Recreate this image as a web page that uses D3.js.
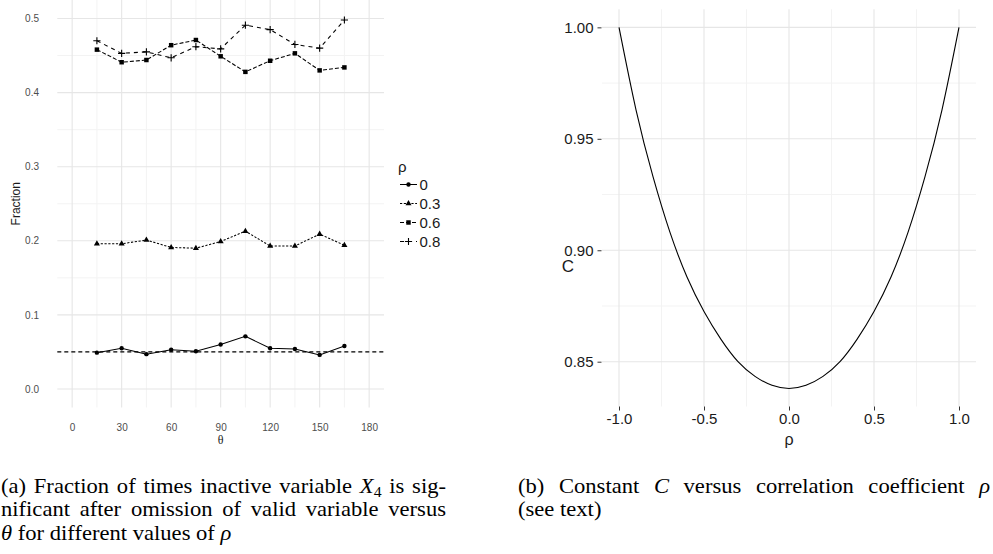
<!DOCTYPE html>
<html>
<head>
<meta charset="utf-8">
<script src="https://cdn.jsdelivr.net/npm/d3@7"></script>
<style>
  html, body { margin: 0; padding: 0; background: #fff; }
  svg { display: block; }
</style>
</head>
<body>
<svg id="chart" width="993" height="554"></svg>
<script>
// ---------- DATA ----------
const theta = [15, 30, 45, 60, 75, 90, 105, 120, 135, 150, 165];
const frac_rho0  = [0.049, 0.055, 0.047, 0.053, 0.051, 0.060, 0.071, 0.055, 0.054, 0.046, 0.058];
const frac_rho03 = [0.196, 0.196, 0.201, 0.191, 0.190, 0.199, 0.213, 0.193, 0.193, 0.209, 0.194];
const frac_rho06 = [0.458, 0.441, 0.444, 0.464, 0.471, 0.449, 0.428, 0.443, 0.453, 0.430, 0.434];
const frac_rho08 = [0.470, 0.453, 0.455, 0.447, 0.462, 0.459, 0.491, 0.485, 0.465, 0.460, 0.498];
const rhoLevels = ["0", "0.3", "0.6", "0.8"];
const refLevel = 0.05;
const thetaTicks = [0, 30, 60, 90, 120, 150, 180];
const fracTicks = [0.0, 0.1, 0.2, 0.3, 0.4, 0.5];

const rhoGrid = [-1.0, -0.9, -0.8, -0.7, -0.6, -0.5, -0.4, -0.3, -0.2, -0.1, 0.0,
                 0.1, 0.2, 0.3, 0.4, 0.5, 0.6, 0.7, 0.8, 0.9, 1.0];
const constC  = [1.000, 0.963, 0.933, 0.908, 0.888, 0.8725, 0.860, 0.850, 0.8434, 0.8394, 0.838,
                 0.8394, 0.8434, 0.850, 0.860, 0.8725, 0.888, 0.908, 0.933, 0.963, 1.000];
const rhoTicks = [-1.0, -0.5, 0.0, 0.5, 1.0];
const cTicks = [0.85, 0.90, 0.95, 1.00];

// ---------- SETUP ----------
const svg = d3.select("#chart");
const sans = "'Liberation Sans', Arial, Helvetica, sans-serif";
const serif = "'Liberation Serif', 'Times New Roman', serif";
const majorCol = "#e6e6e6", minorCol = "#f3f3f3";
const hyph = f => d => f(d).replace("\u2212", "-");

// ================= LEFT PANEL =================
const xL = d3.scaleLinear().domain([-9, 189]).range([57.3, 384]);
const yL = d3.scaleLinear().domain([-0.025, 0.525]).range([407.5, 0]);
const gL = svg.append("g");

const thetaMinor = thetaTicks.slice(0, -1).map(t => t + 15);
const fracMinor = fracTicks.slice(0, -1).map(t => t + 0.05);
gL.selectAll(".vminor").data(thetaMinor).join("line")
  .attr("x1", d => xL(d)).attr("x2", d => xL(d))
  .attr("y1", yL.range()[1]).attr("y2", yL.range()[0])
  .attr("stroke", minorCol).attr("stroke-width", 1);
gL.selectAll(".hminor").data(fracMinor).join("line")
  .attr("y1", d => yL(d)).attr("y2", d => yL(d))
  .attr("x1", xL.range()[0]).attr("x2", xL.range()[1])
  .attr("stroke", minorCol).attr("stroke-width", 1);
gL.selectAll(".vmajor").data(thetaTicks).join("line")
  .attr("x1", d => xL(d)).attr("x2", d => xL(d))
  .attr("y1", yL.range()[1]).attr("y2", yL.range()[0])
  .attr("stroke", majorCol).attr("stroke-width", 1.1);
gL.selectAll(".hmajor").data(fracTicks).join("line")
  .attr("y1", d => yL(d)).attr("y2", d => yL(d))
  .attr("x1", xL.range()[0]).attr("x2", xL.range()[1])
  .attr("stroke", majorCol).attr("stroke-width", 1.1);

const axL = d3.axisLeft(yL).tickValues(fracTicks).tickFormat(d3.format(".1f")).tickSize(0).tickPadding(0);
const axLg = gL.append("g").attr("transform", "translate(39,0)").call(axL);
axLg.select(".domain").remove();
axLg.selectAll("text").attr("font-family", sans).attr("font-size", 10).attr("fill", "#4d4d4d");
const axB = d3.axisBottom(xL).tickValues(thetaTicks).tickFormat(d3.format("d")).tickSize(0).tickPadding(0);
const axBg = gL.append("g").attr("transform", "translate(0,424)").call(axB);
axBg.select(".domain").remove();
axBg.selectAll("text").attr("font-family", sans).attr("font-size", 10).attr("fill", "#4d4d4d");

gL.append("text").attr("x", xL(90)).attr("y", 444).attr("text-anchor", "middle")
  .attr("font-family", serif).attr("font-size", 12).attr("fill", "#1a1a1a").text("θ");
gL.append("text").attr("transform", `translate(19.5,${(yL.range()[0] + yL.range()[1]) / 2}) rotate(-90)`)
  .attr("text-anchor", "middle").attr("font-family", sans).attr("font-size", 12)
  .attr("fill", "#1a1a1a").text("Fraction");

gL.append("line").attr("x1", xL.range()[0]).attr("x2", xL.range()[1])
  .attr("y1", yL(refLevel)).attr("y2", yL(refLevel))
  .attr("stroke", "#000").attr("stroke-width", 1.3).attr("stroke-dasharray", "4,3");

const seriesVals = [frac_rho0, frac_rho03, frac_rho06, frac_rho08];
const dashes = [null, "2.2,1.6", "4,2", "4,4"];
const shapes = ["circle", "triangle", "square", "plus"];

function drawMarker(g, shape, x, y) {
  if (shape === "circle") {
    g.append("circle").attr("cx", x).attr("cy", y).attr("r", 2.2).attr("fill", "#000");
  } else if (shape === "triangle") {
    g.append("path").attr("transform", `translate(${x},${y})`)
      .attr("d", d3.symbol(d3.symbolTriangle, 16)()).attr("fill", "#000");
  } else if (shape === "square") {
    g.append("path").attr("transform", `translate(${x},${y})`)
      .attr("d", d3.symbol(d3.symbolSquare, 20)()).attr("fill", "#000");
  } else {
    g.append("path").attr("transform", `translate(${x},${y})`)
      .attr("d", "M-3.6,0H3.6M0,-3.6V3.6").attr("stroke", "#000").attr("stroke-width", 1.1).attr("fill", "none");
  }
}

const lineL = d3.line().x(d => xL(d[0])).y(d => yL(d[1]));
seriesVals.forEach((vals, i) => {
  const pts = theta.map((t, j) => [t, vals[j]]);
  gL.append("path").datum(pts).attr("d", lineL)
    .attr("fill", "none").attr("stroke", "#000").attr("stroke-width", 1.05)
    .attr("stroke-dasharray", dashes[i]);
  pts.forEach(p => drawMarker(gL, shapes[i], xL(p[0]), yL(p[1])));
});

// legend
const leg = svg.append("g");
leg.append("text").attr("x", 398).attr("y", 172).attr("font-family", sans).attr("font-size", 15)
  .attr("fill", "#1a1a1a").text("ρ");
rhoLevels.forEach((lab, i) => {
  const cy = 184.5 + i * 19;
  leg.append("line").attr("x1", 400).attr("x2", 417).attr("y1", cy).attr("y2", cy)
    .attr("stroke", "#000").attr("stroke-width", 1.05).attr("stroke-dasharray", dashes[i]);
  drawMarker(leg, shapes[i], 408.5, cy);
  leg.append("text").attr("x", 419.5).attr("y", cy + 5.5).attr("font-family", sans)
    .attr("font-size", 15).attr("fill", "#1a1a1a").text(lab);
});

// ================= RIGHT PANEL =================
const cExt = d3.extent(constC);
const cPad = (cExt[1] - cExt[0]) * 0.05;
const xR = d3.scaleLinear().domain([-1.1, 1.1]).range([602, 976]);
const yR = d3.scaleLinear().domain([cExt[0] - cPad, cExt[1] + cPad]).range([406.5, 9.3]);
const gR = svg.append("g");

const rhoMinor = [-0.75, -0.25, 0.25, 0.75];
const cMinor = [0.825, 0.875, 0.925, 0.975];
gR.selectAll(".vminor").data(rhoMinor).join("line")
  .attr("x1", d => xR(d)).attr("x2", d => xR(d))
  .attr("y1", yR.range()[1]).attr("y2", yR.range()[0])
  .attr("stroke", minorCol).attr("stroke-width", 1);
gR.selectAll(".hminor").data(cMinor.filter(d => d > yR.domain()[0])).join("line")
  .attr("y1", d => yR(d)).attr("y2", d => yR(d))
  .attr("x1", xR.range()[0]).attr("x2", xR.range()[1])
  .attr("stroke", minorCol).attr("stroke-width", 1);
gR.selectAll(".vmajor").data(rhoTicks).join("line")
  .attr("x1", d => xR(d)).attr("x2", d => xR(d))
  .attr("y1", yR.range()[1]).attr("y2", yR.range()[0])
  .attr("stroke", majorCol).attr("stroke-width", 1.1);
gR.selectAll(".hmajor").data(cTicks).join("line")
  .attr("y1", d => yR(d)).attr("y2", d => yR(d))
  .attr("x1", xR.range()[0]).attr("x2", xR.range()[1])
  .attr("stroke", majorCol).attr("stroke-width", 1.1);

const axRL = d3.axisLeft(yR).tickValues(cTicks).tickFormat(d3.format(".2f")).tickSize(4).tickPadding(4);
const axRLg = gR.append("g").attr("transform", "translate(601.5,0)").call(axRL);
axRLg.select(".domain").remove();
axRLg.selectAll("line").attr("stroke", "#333").attr("stroke-width", 1);
axRLg.selectAll("text").attr("font-family", sans).attr("font-size", 15).attr("fill", "#1a1a1a");

const axRB = d3.axisBottom(xR).tickValues(rhoTicks).tickFormat(hyph(d3.format(".1f"))).tickSize(4).tickPadding(3);
const axRBg = gR.append("g").attr("transform", "translate(0,406.5)").call(axRB);
axRBg.select(".domain").remove();
axRBg.selectAll("line").attr("stroke", "#333").attr("stroke-width", 1);
axRBg.selectAll("text").attr("font-family", sans).attr("font-size", 15).attr("fill", "#1a1a1a");

gR.append("text").attr("x", xR(0)).attr("y", 445).attr("text-anchor", "middle")
  .attr("font-family", sans).attr("font-size", 16).attr("fill", "#1a1a1a").text("ρ");
gR.append("text").attr("x", 568).attr("y", 272).attr("text-anchor", "middle")
  .attr("font-family", sans).attr("font-size", 17).attr("fill", "#1a1a1a").text("C");

const lineR = d3.line().x((d, i) => xR(rhoGrid[i])).y(d => yR(d)).curve(d3.curveNatural);
gR.append("path").datum(constC).attr("d", lineR)
  .attr("fill", "none").attr("stroke", "#000").attr("stroke-width", 1.1);

// ================= CAPTIONS =================
const sx = 1.13;
const cap = svg.append("g").attr("transform", `scale(${sx},1)`)
  .attr("font-family", serif).attr("font-size", 20).attr("fill", "#000");
function capLine(x, y, parts, targetW) {
  const t = cap.append("text").attr("x", x / sx).attr("y", y);
  parts.forEach(p => {
    const s = t.append("tspan").text(p.t);
    if (p.i) s.attr("font-style", "italic");
    if (p.sub) s.attr("font-size", 14).attr("dy", 4);
    if (p.up) s.attr("dy", -4);
  });
  if (targetW) {
    const w = t.node().getComputedTextLength();
    const n = parts.map(p => p.t).join("").split(" ").length - 1;
    t.attr("word-spacing", (targetW / sx - w) / n);
  }
  return t;
}
capLine(1, 493, [{t: "(a) Fraction of times inactive variable "}, {t: "X", i: true}, {t: "4", sub: true}, {t: " is sig-", up: true}], 445);
capLine(1, 516.5, [{t: "nificant after omission of valid variable versus"}], 445);
capLine(1, 540, [{t: "θ", i: true}, {t: " for different values of "}, {t: "ρ", i: true}]);
capLine(518, 493, [{t: "(b) Constant "}, {t: "C", i: true}, {t: " versus correlation coefficient "}, {t: "ρ", i: true}], 472);
capLine(518, 516.5, [{t: "(see text)"}]);
</script>
</body>
</html>
